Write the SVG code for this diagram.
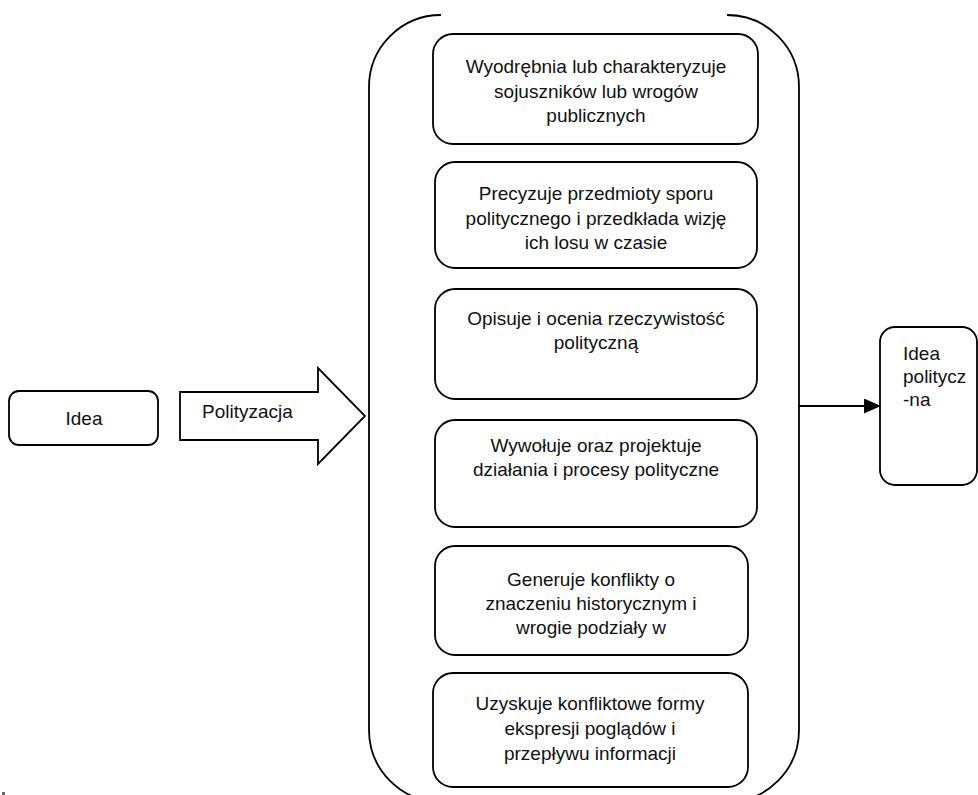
<svg xmlns="http://www.w3.org/2000/svg" width="978" height="795" viewBox="0 0 978 795">
<style>
.box{fill:#fff;stroke:#000;stroke-width:1.8}
.line{fill:none;stroke:#000;stroke-width:1.8}
text{font-family:"Liberation Sans",Arial,sans-serif;font-size:19px;fill:#111}
.c{text-anchor:middle}
</style>
<defs>
<marker id="ah" markerWidth="17" markerHeight="15" refX="16" refY="7.5" orient="auto" markerUnits="userSpaceOnUse">
<path d="M0,0 L17,7.5 L0,15 Z" fill="#000"/>
</marker>
</defs>
<rect width="978" height="795" fill="#fff"/>
<g id="container">
<path class="line" d="M441,15 A72,72 0 0 0 369,87 L369,730 A72,72 0 0 0 441,802"/>
<path class="line" d="M727,15 A72,72 0 0 1 799,87 L799,730 A72,72 0 0 1 727,802"/>
</g>
<g id="idea">
<rect class="box" x="9" y="391" width="149" height="54" rx="10"/>
<text class="c" x="84" y="425">Idea</text>
</g>
<g id="polityzacja">
<path class="box" d="M180,392 L318,392 L318,368 L365,416 L318,464 L318,440 L180,440 Z"/>
<text x="202" y="418">Polityzacja</text>
</g>
<g id="box1">
<rect class="box" x="433" y="34" width="325" height="110" rx="20"/>
<text class="c" x="596" y="73">Wyodrębnia lub charakteryzuje</text>
<text class="c" x="596" y="98">sojuszników lub wrogów</text>
<text class="c" x="596" y="122">publicznych</text>
</g>
<g id="box2">
<rect class="box" x="435" y="162" width="322" height="106" rx="20"/>
<text class="c" x="596" y="200">Precyzuje przedmioty sporu</text>
<text class="c" x="596" y="225">politycznego i przedkłada wizję</text>
<text class="c" x="596" y="249">ich losu w czasie</text>
</g>
<g id="box3">
<rect class="box" x="435" y="289" width="322" height="110" rx="20"/>
<text class="c" x="596" y="325">Opisuje i ocenia rzeczywistość</text>
<text class="c" x="596" y="349">polityczną</text>
</g>
<g id="box4">
<rect class="box" x="435" y="420" width="322" height="107" rx="20"/>
<text class="c" x="596" y="452">Wywołuje oraz projektuje</text>
<text class="c" x="596" y="476">działania i procesy polityczne</text>
</g>
<g id="box5">
<rect class="box" x="435" y="546" width="313" height="109" rx="20"/>
<text class="c" x="591" y="586">Generuje konflikty o</text>
<text class="c" x="591" y="610">znaczeniu historycznym i</text>
<text class="c" x="591" y="634">wrogie podziały w</text>
</g>
<g id="box6">
<rect class="box" x="433" y="673" width="315" height="114" rx="20"/>
<text class="c" x="590" y="710">Uzyskuje konfliktowe formy</text>
<text class="c" x="590" y="735">ekspresji poglądów i</text>
<text class="c" x="590" y="760">przepływu informacji</text>
</g>
<g id="idea-polityczna">
<rect class="box" x="880" y="327" width="97" height="158" rx="15"/>
<text x="903" y="360">Idea</text>
<text x="903" y="383">politycz</text>
<text x="903" y="406">-na</text>
</g>
<g id="connectors">
<line class="line" x1="799" y1="406" x2="880" y2="406" marker-end="url(#ah)"/>
</g>
<rect x="2" y="792" width="3" height="3" fill="#666"/>
</svg>
